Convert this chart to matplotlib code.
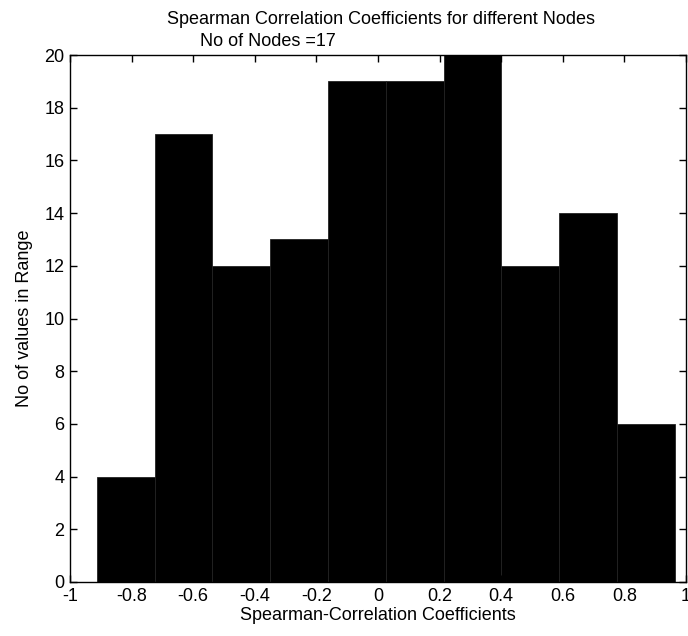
import numpy as np
import matplotlib
matplotlib.use("Agg")
import matplotlib.pyplot as plt
from matplotlib import font_manager

# histogram of the pairwise coefficients (17 nodes -> 136 pairs)
counts = [4, 17, 12, 13, 19, 19, 20, 12, 14, 6]
bin_lo, bin_hi = -0.913, 0.964
x_ticks = [-1, -0.8, -0.6, -0.4, -0.2, 0, 0.2, 0.4, 0.6, 0.8, 1]
x_tick_labels = ["-1", "-0.8", "-0.6", "-0.4", "-0.2", "0", "0.2", "0.4", "0.6", "0.8", "1"]
y_ticks = [0, 2, 4, 6, 8, 10, 12, 14, 16, 18, 20]

names = {f.name for f in font_manager.fontManager.ttflist}
family = "Liberation Sans Narrow" if "Liberation Sans Narrow" in names else "Liberation Sans"
plt.rcParams["font.family"] = [family, "DejaVu Sans"]
plt.rcParams["font.size"] = 13

fig = plt.figure(figsize=(6.88, 6.36), dpi=100)
ax = fig.add_axes([70 / 688, 54 / 636, 616 / 688, 527 / 636])

edges = np.linspace(bin_lo, bin_hi, len(counts) + 1)
ax.bar(edges[:-1], counts, width=np.diff(edges), align="edge",
       color="black", edgecolor="#222222", linewidth=0.6)

ax.set_xlim(-1, 1)
ax.set_ylim(0, 20)
ax.set_xticks(x_ticks)
ax.set_xticklabels(x_tick_labels)
ax.set_yticks(y_ticks)
ax.tick_params(direction="in", length=5, width=1, top=True, right=True, pad=4)
for s in ax.spines.values():
    s.set_linewidth(1)

ax.set_xlabel("Spearman-Correlation Coefficients", labelpad=2)
ax.set_ylabel("No of values in Range", labelpad=8)
fig.text(381 / 688, 1 - 20 / 636, "Spearman Correlation Coefficients for different Nodes",
         ha="center", va="center", fontsize=13)
fig.text(268 / 688, 1 - 42 / 636, "No of Nodes =17", ha="center", va="center", fontsize=13)

fig.savefig("out.png", dpi=100)
